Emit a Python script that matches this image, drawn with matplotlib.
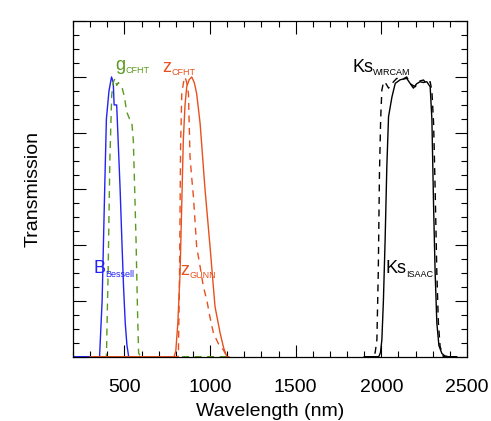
import matplotlib
matplotlib.use("Agg")
import matplotlib.pyplot as plt
from matplotlib.ticker import MultipleLocator
from matplotlib.transforms import offset_copy

plt.rcParams["font.family"] = ["Liberation Sans", "DejaVu Sans"]

# filter curves: wavelength (nm), transmission
b_bessell_wl = [200, 340, 355, 370, 385, 395, 410, 425, 435, 440, 455, 465, 475, 485, 495, 505, 515, 525, 540]
b_bessell_tr = [0, 0, 0.0, 0.2, 0.6, 0.85, 0.95, 1.0, 0.98, 0.9, 0.9, 0.75, 0.6, 0.42, 0.25, 0.12, 0.04, 0.0, 0]

g_cfht_wl = [300, 395, 405, 415, 426, 435, 445, 455, 465, 475, 485, 500, 513, 530, 543, 552, 560, 568, 576, 583, 595, 1100]
g_cfht_tr = [0, 0, 0.3, 0.7, 0.935, 0.98, 0.995, 0.97, 0.98, 0.97, 0.965, 0.93, 0.876, 0.85, 0.84, 0.775, 0.6, 0.417, 0.18, 0.013, 0, 0]

z_gunn_wl = [300, 790, 800, 812, 825, 835, 844, 854, 864, 878, 893, 908, 922, 942, 971, 1000, 1029, 1059, 1080, 1098, 1110]
z_gunn_tr = [0, 0, 0.02, 0.12, 0.30, 0.55, 0.775, 0.90, 0.965, 0.99, 1.0, 0.98, 0.94, 0.834, 0.596, 0.393, 0.179, 0.084, 0.03, 0.0, 0]

z_cfht_wl = [780, 815, 822, 828, 835, 845, 854, 864, 874, 883, 893, 903, 922, 942, 961, 981, 1000, 1020, 1050, 1078, 1090, 1100]
z_cfht_tr = [0, 0, 0.3, 0.75, 0.94, 0.98, 1.0, 0.98, 0.94, 0.715, 0.64, 0.572, 0.393, 0.322, 0.25, 0.203, 0.14, 0.084, 0.045, 0.024, 0.01, 0]

ks_wircam_wl = [1900, 1954, 1964, 1974, 1982, 1989, 1996, 2003, 2013, 2028, 2042, 2062, 2090, 2120, 2148, 2170, 2198, 2220, 2246, 2265, 2285, 2295, 2305, 2314, 2324, 2333, 2343, 2362, 2400]
ks_wircam_tr = [0, 0, 0.015, 0.06, 0.3, 0.656, 0.85, 0.953, 0.983, 0.975, 0.96, 0.977, 0.995, 0.99, 1.0, 0.975, 0.965, 0.985, 0.989, 0.975, 0.983, 0.95, 0.834, 0.6, 0.298, 0.12, 0.036, 0, 0]

ks_isaac_wl = [1900, 1985, 1995, 2003, 2012, 2022, 2032, 2042, 2062, 2081, 2110, 2148, 2170, 2187, 2205, 2226, 2245, 2265, 2285, 2295, 2305, 2314, 2324, 2336, 2353, 2370, 2392, 2440]
ks_isaac_tr = [0, 0, 0.015, 0.06, 0.2, 0.417, 0.68, 0.858, 0.929, 0.977, 0.99, 0.995, 0.975, 0.96, 0.975, 0.983, 0.98, 0.983, 0.965, 0.85, 0.536, 0.3, 0.12, 0.04, 0.012, 0.003, 0, 0]

blue = "#2323f5"
green = "#5a9a1e"
red = "#e8501e"

fig = plt.figure(figsize=(4.91, 4.21), dpi=100)
ax = fig.add_axes([73 / 491, 1 - 356.7 / 421, (467 - 73) / 491, (356.7 - 21) / 421])

ax.plot(b_bessell_wl, b_bessell_tr, color=blue, lw=1.0)
ax.plot(g_cfht_wl, g_cfht_tr, color=green, lw=1.0, ls=(0, (5, 4)))
ax.plot(z_gunn_wl, z_gunn_tr, color=red, lw=1.0)
ax.plot(z_cfht_wl, z_cfht_tr, color=red, lw=1.0, ls=(0, (5, 4)))
ax.plot(ks_isaac_wl, ks_isaac_tr, color="black", lw=1.0)
ax.plot(ks_wircam_wl, ks_wircam_tr, color="black", lw=1.0, ls=(0, (5, 4)))

ax.set_xlim(200, 2500)
ax.set_ylim(0, 1.2)
ax.xaxis.set_major_locator(MultipleLocator(500))
ax.xaxis.set_minor_locator(MultipleLocator(100))
ax.yaxis.set_major_locator(MultipleLocator(0.2))
ax.yaxis.set_minor_locator(MultipleLocator(0.05))
ax.tick_params(which="both", direction="in", top=True, right=True, width=0.8)
ax.tick_params(which="major", length=9)
ax.tick_params(which="minor", length=4.5)
ax.tick_params(axis="x", labelsize=14, pad=16)
ax.set_yticklabels([])
ax.set_xticks([500, 1000, 1500, 2000, 2500])
for s in ax.spines.values():
    s.set_linewidth(0.9)

ax.set_xlabel("Wavelength (nm)", fontsize=14, labelpad=5)
ax.set_ylabel("Transmission", fontsize=14, labelpad=19)

labels = [
    ("B", "Bessell", 317, 0.299, blue),
    ("z", "GUNN", 825, 0.292, red),
    ("z", "CFHT", 720, 1.018, red),
    ("g", "CFHT", 445, 1.025, green),
    ("Ks", "WIRCAM", 1830, 1.018, "black"),
    ("Ks", "ISAAC", 2022, 0.299, "black"),
]

renderer = fig.canvas.get_renderer()
for main, sub, x, y, c in labels:
    t = ax.text(x, y, main, color=c, fontsize=13, ha="left", va="baseline")
    w = t.get_window_extent(renderer).width
    tr = offset_copy(ax.transData, fig=fig, x=w * 72 / fig.dpi, y=-2.5, units="points")
    ax.text(x, y, sub, color=c, fontsize=6.5, ha="left", va="baseline", transform=tr)

fig.savefig("out.png", dpi=100)
